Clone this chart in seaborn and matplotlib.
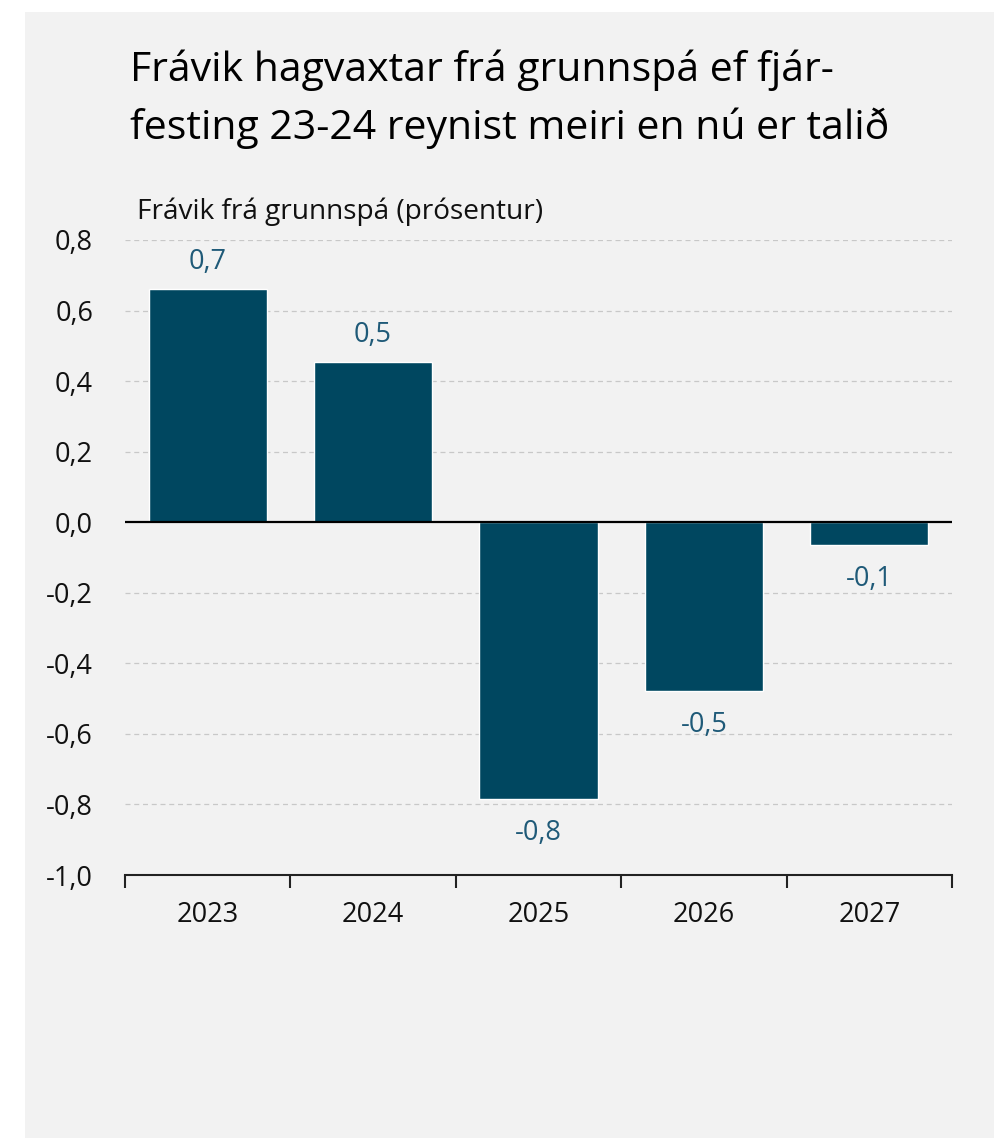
import matplotlib
matplotlib.use("Agg")
import matplotlib.pyplot as plt
import seaborn as sns
import pandas as pd
from matplotlib.patches import Rectangle

years = ["2023", "2024", "2025", "2026", "2027"]
values = [0.66, 0.455, -0.785, -0.478, -0.065]
labels = ["0,7", "0,5", "-0,8", "-0,5", "-0,1"]
yticks = [0.8, 0.6, 0.4, 0.2, 0.0, -0.2, -0.4, -0.6, -0.8, -1.0]
ytick_labels = ["0,8", "0,6", "0,4", "0,2", "0,0", "-0,2", "-0,4", "-0,6", "-0,8", "-1,0"]
title = "Frávik hagvaxtar frá grunnspá ef fjár-\nfesting 23-24 reynist meiri en nú er talið"
ylabel = "Frávik frá grunnspá (prósentur)"

sns.set_theme(style="white")
plt.rcParams['font.family'] = ['Open Sans', 'DejaVu Sans']

BG = "#f2f2f2"
BAR = "#004760"
LBL = "#1f5a78"
FS = 19.5

fig = plt.figure(figsize=(9.95, 11.38), dpi=100)
fig.patch.set_facecolor("white")
fig.patches.append(Rectangle((25/995, 0), 1 - 25/995, 1 - 12/1138,
                             transform=fig.transFigure, facecolor=BG,
                             edgecolor="none", zorder=-10))

ax = fig.add_axes([125/995, 1 - 875/1138, (952 - 125)/995, (875 - 240)/1138])
ax.set_zorder(5)
ax.patch.set_alpha(0)

df = pd.DataFrame({"year": years, "value": values})
sns.barplot(data=df, x="year", y="value", color=BAR, saturation=1,
            width=0.715, ax=ax, zorder=3)

ax.set_ylim(-1.0, 0.8)
ax.set_xlim(-0.5, 4.5)
ax.set_yticks(yticks)
ax.set_yticklabels(ytick_labels, fontsize=FS, color="#111111")
ax.tick_params(axis="y", length=0, pad=23)
for y in yticks:
    if y not in (0.0, -1.0):
        ax.axhline(y, color="#c8c8c8", lw=0.9, ls=(0, (4, 3)), zorder=1)
ax.axhline(0, color="black", lw=1.6, zorder=4)

ax.set_xticks([-0.5, 0.5, 1.5, 2.5, 3.5, 4.5])
ax.set_xticklabels([])
ax.tick_params(axis="x", length=9, width=1.5, color="#222222", direction="out", bottom=True)
for i, yr in enumerate(years):
    ax.text(i, -1.113, yr, ha="center", va="center",
            fontsize=FS, color="#111111", zorder=5, clip_on=False)

for s in ["left", "right", "top"]:
    ax.spines[s].set_visible(False)
ax.spines["bottom"].set_color("#222222")
ax.spines["bottom"].set_linewidth(1.5)

ax.set_xlabel("")
ax.set_ylabel("")

for i, (v, lab) in enumerate(zip(values, labels)):
    if v >= 0:
        ax.text(i, v + 0.077, lab, ha="center", va="center", fontsize=FS, color=LBL, zorder=5)
    else:
        ax.text(i, v - 0.097, lab, ha="center", va="center", fontsize=FS, color=LBL, zorder=5)

fig.text(130/995, 1 - 70/1138, title.split("\n")[0], ha="left", va="center", fontsize=29.5, color="black")
fig.text(130/995, 1 - 128/1138, title.split("\n")[1], ha="left", va="center", fontsize=29.5, color="black")
fig.text(137/995, 1 - 212/1138, ylabel, ha="left", va="center", fontsize=20.2, color="#111111")

fig.savefig("out.png", dpi=100, facecolor=fig.get_facecolor())
